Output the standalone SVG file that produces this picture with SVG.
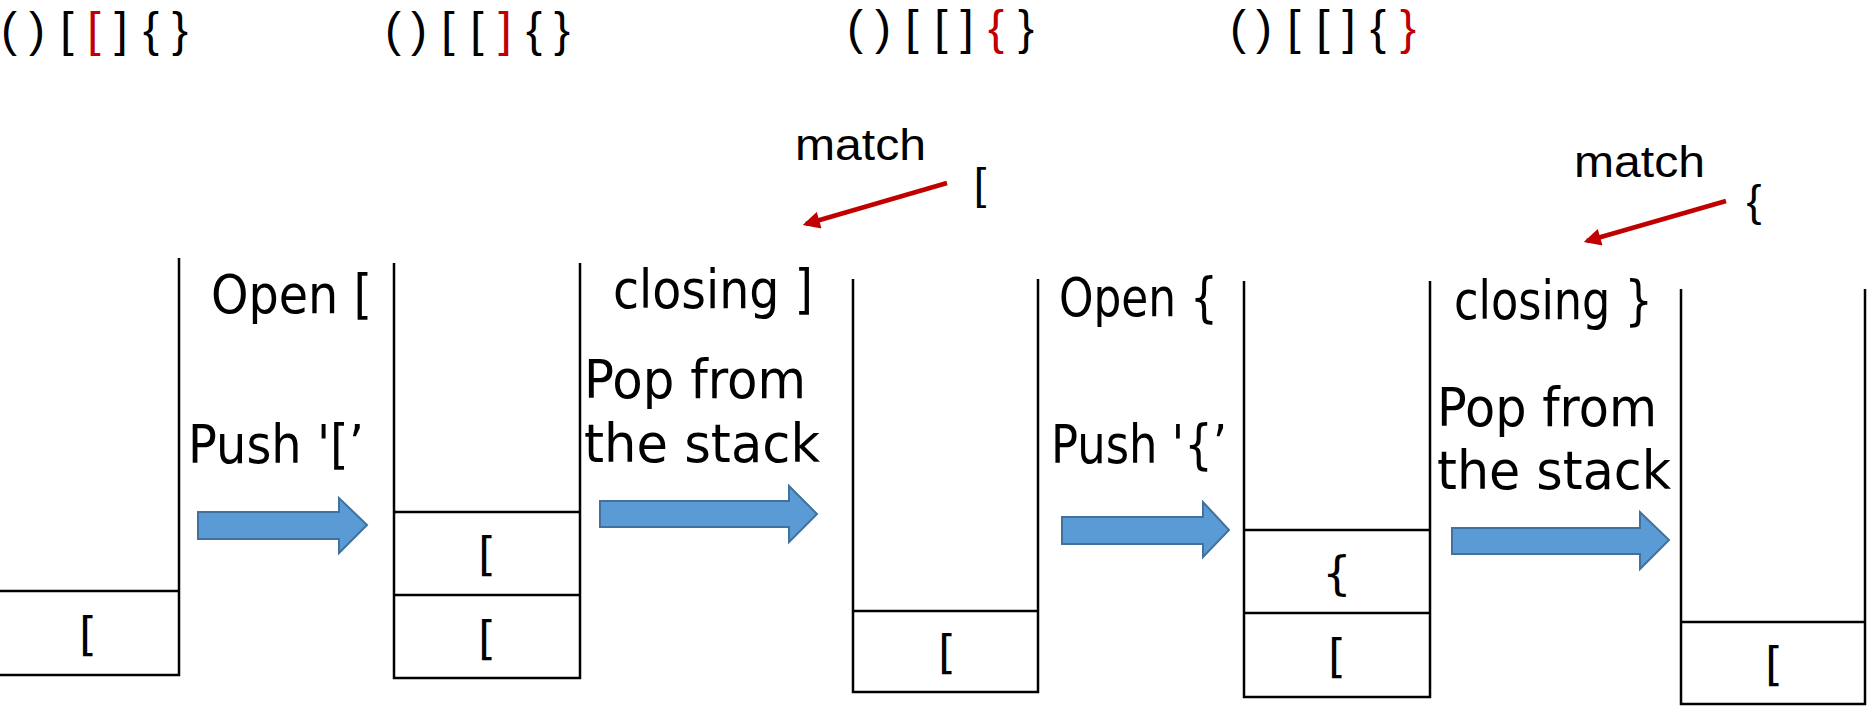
<svg xmlns="http://www.w3.org/2000/svg" width="1867" height="706" viewBox="0 0 1867 706">
  <defs>
    <style>
      .wall { fill: none; stroke: #000; stroke-width: 2.5; }
      .hand { font-family: "DejaVu Sans", "Noto Sans", sans-serif; font-size: 53px; fill: #000; }
      .cell { font-family: "DejaVu Sans", "Noto Sans", sans-serif; font-size: 46px; fill: #000; text-anchor: middle; }
      .seq { font-family: "Liberation Sans", Arial, sans-serif; font-size: 48px; fill: #000; text-anchor: middle; }
      .seq .hl { fill: #C00000; }
      .note { font-family: "Liberation Sans", Arial, sans-serif; font-size: 45px; fill: #000; }
      .blue { fill: #5B9BD5; stroke: #41719C; stroke-width: 2; }
      .red { fill: none; stroke: #C00000; stroke-width: 4.5; }
    </style>
    <marker id="redHead" viewBox="0 0 10 10" refX="8" refY="5" markerWidth="4.6" markerHeight="3.8" orient="auto" markerUnits="strokeWidth">
      <path d="M0,0 L10,5 L0,10 Z" fill="#C00000"/>
    </marker>
  </defs>

  <!-- bracket sequence being scanned, current symbol in red -->
  <g id="seq1" class="seq">
    <text x="9" y="46">(</text><text x="37" y="46">)</text><text x="67" y="46">[</text><text x="94" y="46" class="hl">[</text><text x="121" y="46">]</text><text x="151" y="46">{</text><text x="180" y="46">}</text>
  </g>
  <g id="seq2" class="seq">
    <text x="393" y="46">(</text><text x="419" y="46">)</text><text x="448" y="46">[</text><text x="477" y="46">[</text><text x="505" y="46" class="hl">]</text><text x="534" y="46">{</text><text x="562" y="46">}</text>
  </g>
  <g id="seq3" class="seq">
    <text x="855" y="44">(</text><text x="883" y="44">)</text><text x="912" y="44">[</text><text x="941" y="44">[</text><text x="967" y="44">]</text><text x="996" y="44" class="hl">{</text><text x="1026" y="44">}</text>
  </g>
  <g id="seq4" class="seq">
    <text x="1238" y="44">(</text><text x="1264" y="44">)</text><text x="1294" y="44">[</text><text x="1323" y="44">[</text><text x="1349" y="44">]</text><text x="1378" y="44">{</text><text x="1408" y="44" class="hl">}</text>
  </g>

  <!-- stacks -->
  <g id="stack1">
    <path class="wall" d="M0,675 H179 V258 M0,591 H179"/>
    <text class="cell" x="88" y="650">[</text>
  </g>
  <g id="stack2">
    <path class="wall" d="M394,263 V678 H580 V263 M394,512 H580 M394,595 H580"/>
    <text class="cell" x="487" y="570">[</text>
    <text class="cell" x="487" y="654">[</text>
  </g>
  <g id="stack3">
    <path class="wall" d="M853,279 V692 H1038 V279 M853,611 H1038"/>
    <text class="cell" x="947" y="668">[</text>
  </g>
  <g id="stack4">
    <path class="wall" d="M1244,281 V697 H1430 V281 M1244,530 H1430 M1244,613 H1430"/>
    <text class="cell" x="1337" y="589">{</text>
    <text class="cell" x="1337" y="672">[</text>
  </g>
  <g id="stack5">
    <path class="wall" d="M1681,289 V704 H1865 V289 M1681,622 H1865"/>
    <text class="cell" x="1774" y="680">[</text>
  </g>

  <!-- step labels -->
  <g id="step1">
    <text class="hand" x="211" y="313" textLength="161" lengthAdjust="spacingAndGlyphs">Open [</text>
    <text class="hand" x="188" y="463" textLength="176" lengthAdjust="spacingAndGlyphs">Push '[’</text>
  </g>
  <g id="step2">
    <text class="hand" x="613" y="308" textLength="200" lengthAdjust="spacingAndGlyphs">closing ]</text>
    <text class="hand"><tspan x="584" y="398" textLength="222" lengthAdjust="spacingAndGlyphs">Pop from</tspan><tspan x="584" y="462" textLength="236" lengthAdjust="spacingAndGlyphs">the stack</tspan></text>
    <text class="note" x="795" y="160" textLength="131" lengthAdjust="spacingAndGlyphs">match</text>
    <text class="note" x="980" y="199" text-anchor="middle">[</text>
  </g>
  <g id="step3">
    <text class="hand" x="1059" y="316" textLength="159" lengthAdjust="spacingAndGlyphs">Open {</text>
    <text class="hand" x="1051" y="463" textLength="176" lengthAdjust="spacingAndGlyphs">Push '{’</text>
  </g>
  <g id="step4">
    <text class="hand" x="1454" y="319" textLength="199" lengthAdjust="spacingAndGlyphs">closing }</text>
    <text class="hand"><tspan x="1437" y="426" textLength="220" lengthAdjust="spacingAndGlyphs">Pop from</tspan><tspan x="1437" y="489" textLength="234" lengthAdjust="spacingAndGlyphs">the stack</tspan></text>
    <text class="note" x="1574" y="177" textLength="131" lengthAdjust="spacingAndGlyphs">match</text>
    <text class="note" x="1754" y="216" text-anchor="middle">{</text>
  </g>

  <!-- connectors -->
  <g id="connectors">
    <path class="blue" d="M198,512 H339 V498 L367,525 L339,553 V539 H198 Z"/>
    <path class="blue" d="M600,501 H789 V486 L817,514 L789,542 V527 H600 Z"/>
    <path class="blue" d="M1062,517 H1203 V502 L1229,530 L1203,557 V544 H1062 Z"/>
    <path class="blue" d="M1452,528 H1640 V512 L1669,540 L1640,569 V554 H1452 Z"/>
    <path class="red" d="M947,183 L806,224" marker-end="url(#redHead)"/>
    <path class="red" d="M1726,201 L1587,241" marker-end="url(#redHead)"/>
  </g>
</svg>
